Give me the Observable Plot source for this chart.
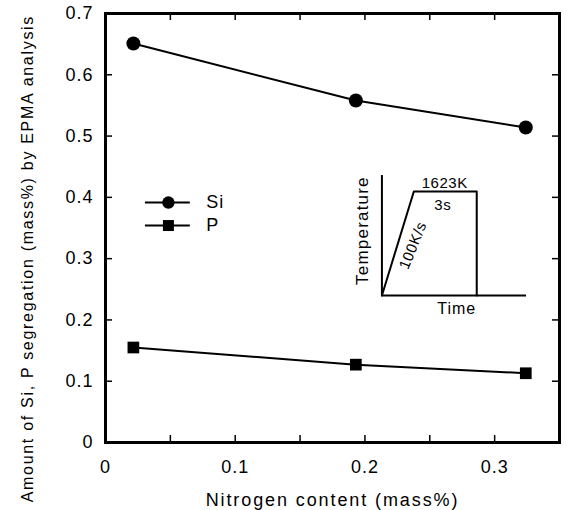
<!DOCTYPE html>
<html><head><meta charset="utf-8">
<script src="https://cdn.jsdelivr.net/npm/d3@7"></script>
<script src="https://cdn.jsdelivr.net/npm/@observablehq/plot@0.6"></script>
<style>
body{margin:0;background:#fff}
svg{font-family:"Liberation Sans",Arial,sans-serif}
svg text{letter-spacing:1px}
</style>
</head><body><div id="chart"></div>
<script>
// Data
const nitrogen = [0.0215, 0.193, 0.324];
const si = [0.651, 0.558, 0.514];
const p = [0.155, 0.127, 0.113];

// Ticks
const xTickLabels = [0, 0.1, 0.2, 0.3];
const xTicks = [0.05, 0.1, 0.15, 0.2, 0.25, 0.3];
const yTickLabels = [0, 0.1, 0.2, 0.3, 0.4, 0.5, 0.6, 0.7];
const yTicks = [0.1, 0.2, 0.3, 0.4, 0.5, 0.6];

// Axis titles
const xTitle = "Nitrogen content (mass%)";
const yTitle = "Amount of Si, P segregation (mass%) by EPMA analysis";
const yTitleAt = [-0.06, 0.300];

// Legend (in chart data units)
const legendNames = ["Si", "P"];
const legendSymbols = ["circle", "square"];
const legendY = [0.3915, 0.354];
const legendX = [0.0308, 0.0485, 0.0654, 0.0777];

// Inset heat-treatment schematic (in chart data units)
const insetProfileX = [0.2131, 0.2377, 0.2862, 0.2862];
const insetProfileY = [0.2398, 0.4095, 0.4095, 0.2398];
const insetAxisX = [0.2131, 0.3246];
const insetAxisY = [0.2398, 0.4356];
const insetLabels = ["1623K", "3s", "100K/s", "Temperature", "Time"];
const insetLabelX = [0.2615, 0.2600, 0.2370, 0.1985, 0.2708];
const insetLabelY = [0.4225, 0.3866, 0.3214, 0.3458, 0.2186];
const insetLabelRotate = [0, 0, -68, -90, 0];
const insetLabelSize = [15, 15, 15, 17, 16];

const siData = nitrogen.map((x, i) => ({x, y: si[i]}));
const pData = nitrogen.map((x, i) => ({x, y: p[i]}));
const legend = legendNames.map((name, i) => ({name, symbol: legendSymbols[i], y: legendY[i]}));
const profile = insetProfileX.map((x, i) => ({x, y: insetProfileY[i]}));
const insetText = insetLabels.map((t, i) => ({t, x: insetLabelX[i], y: insetLabelY[i], r: insetLabelRotate[i], s: insetLabelSize[i]}));

const W = 567, H = 510, mL = 105, mR = 8, mT = 13, mB = 68;
const fw = W - mL - mR, fh = H - mT - mB;

const chart = Plot.plot({
  width: W, height: H,
  marginLeft: mL, marginRight: mR, marginTop: mT, marginBottom: mB,
  x: {domain: [0, 0.35]},
  y: {domain: [0, 0.7]},
  style: {fontFamily: '"Liberation Sans", Arial, sans-serif', color: "#000", background: "#fff"},
  marks: [
    // inward ticks
    Plot.tickX(xTicks, {x: d => d, insetTop: fh - 7, strokeWidth: 1.5}),
    Plot.tickX(xTicks, {x: d => d, insetBottom: fh - 7, strokeWidth: 1.5}),
    Plot.tickY(yTicks, {y: d => d, insetRight: fw - 7, strokeWidth: 1.5}),
    Plot.tickY(yTicks, {y: d => d, insetLeft: fw - 7, strokeWidth: 1.5}),
    Plot.axisX({ticks: xTickLabels, tickSize: 0, tickPadding: 18, tickFormat: d => String(d), fontSize: 18, label: null}),
    Plot.axisY({ticks: yTickLabels, tickSize: 0, tickPadding: 12, tickFormat: d => String(d), fontSize: 18, label: null}),
    Plot.text([xTitle], {frameAnchor: "bottom", dy: 63, fontSize: 18, fill: "#000"}),
    Plot.text([yTitle], {x: yTitleAt[0], y: yTitleAt[1], rotate: -90, fontSize: 16, fill: "#000"}),
    // data
    Plot.line(siData, {x: "x", y: "y", stroke: "#000", strokeWidth: 2}),
    Plot.line(pData, {x: "x", y: "y", stroke: "#000", strokeWidth: 2}),
    Plot.dot(siData, {x: "x", y: "y", r: 7, fill: "#000", stroke: null}),
    Plot.dot(pData, {x: "x", y: "y", r: 6.6, symbol: "square", fill: "#000", stroke: null}),
    // legend
    Plot.ruleY(legend, {y: "y", x1: legendX[0], x2: legendX[2], stroke: "#000", strokeWidth: 2}),
    Plot.dot(legend, {x: legendX[1], y: "y", symbol: "symbol", r: 6.2, fill: "#000", stroke: null}),
    Plot.text(legend, {x: legendX[3], y: "y", text: "name", textAnchor: "start", fontSize: 18, fill: "#000"}),
    // inset
    Plot.ruleX([insetAxisX[0]], {x: d => d, y1: insetAxisY[0], y2: insetAxisY[1], stroke: "#000", strokeWidth: 2}),
    Plot.ruleY([insetAxisY[0]], {y: d => d, x1: insetAxisX[0], x2: insetAxisX[1], stroke: "#000", strokeWidth: 2}),
    Plot.line(profile, {x: "x", y: "y", stroke: "#000", strokeWidth: 2}),
    Plot.text(insetText, {x: "x", y: "y", text: "t", rotate: "r", fontSize: "s", fill: "#000"}),
    Plot.frame({stroke: "#000", strokeWidth: 3})
  ]
});
// per-text letter spacing (styling only)
const spacing = {[xTitle]: "1.9px", [yTitle]: "1.7px", "Temperature": "1.2px", "1623K": "0.5px", "3s": "0.5px", "100K/s": "0.5px"};
d3.select(chart).selectAll("text").each(function() {
  const s = spacing[this.textContent];
  if (s) this.style.letterSpacing = s;
});
document.getElementById("chart").appendChild(chart);
</script>
</body></html>
